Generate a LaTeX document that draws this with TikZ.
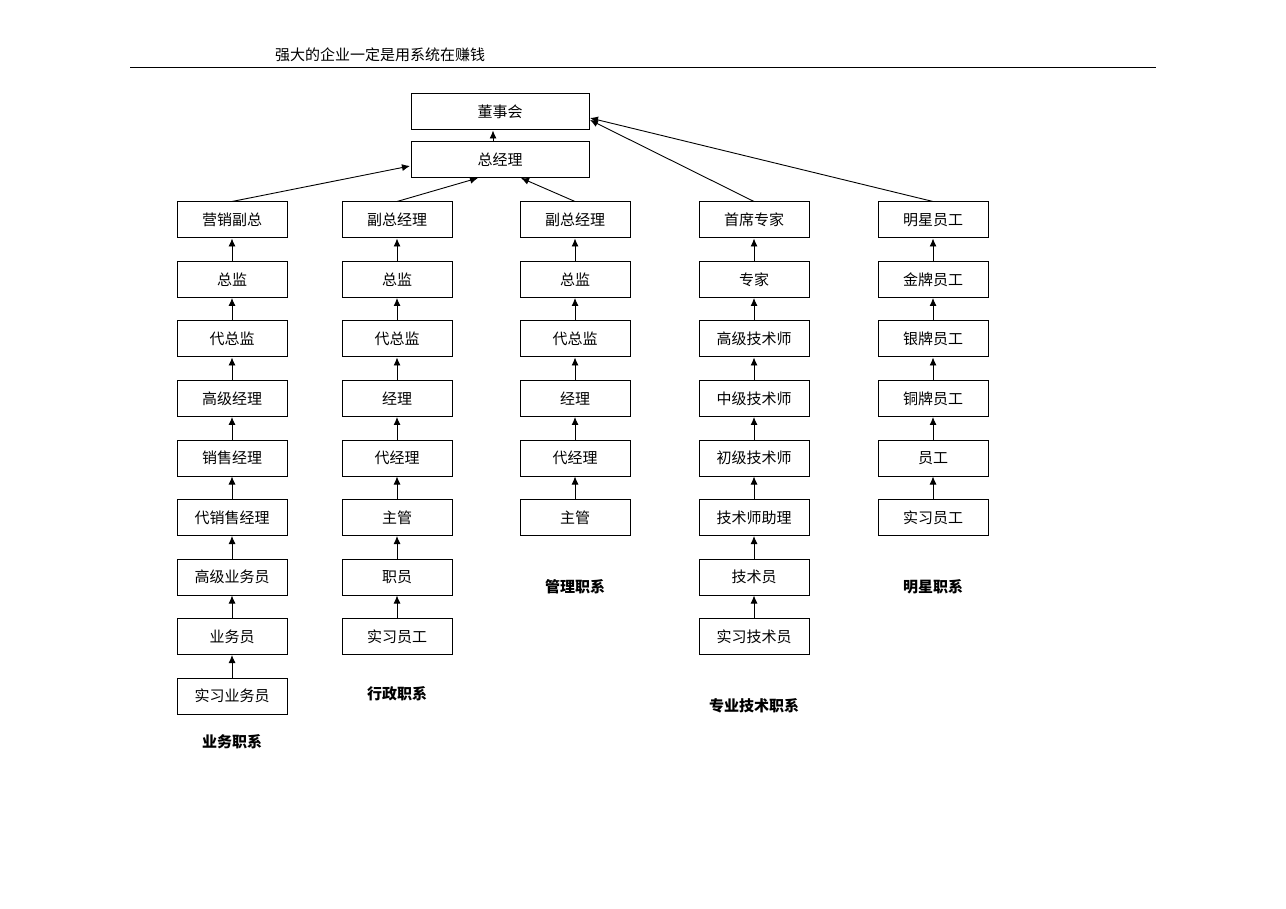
\documentclass[tikz,border=0pt]{standalone}
\usepackage{fontspec}
\newfontfamily\cjk{Noto Sans CJK SC}
\usetikzlibrary{arrows.meta}
\begin{document}
\begin{tikzpicture}[x=1pt,y=-1pt,
 box/.style={draw,line width=1pt,minimum width=110pt,minimum height=36pt,inner sep=0pt,font=\cjk\fontsize{15}{15}\selectfont},
 lab/.style={font=\cjk\bfseries\fontsize{15}{15}\selectfont},
 arr/.style={-{Latex[length=8pt,width=7pt]},line width=0.9pt}]
\useasboundingbox[fill=white] (0,0) rectangle (1286,909);
\node[font=\cjk\fontsize{15}{15}\selectfont] (hdr) at (380,55) {强大的企业一定是用系统在赚钱};
\coordinate (l1) at (130,68); \coordinate (l2) at (1156,68);
\draw[line width=1pt] (l1) -- (l2);
\node[box,minimum width=178pt] (dsh) at (500,112) {董事会};
\node[box,minimum width=178pt] (zjl) at (500,160) {总经理};
\draw[arr] (zjl.north -| 493,0) -- (dsh.south -| 493,0);
\foreach \c/\x/\lbl/\ly/\names in {
 a/232/业务职系/742/{营销副总,总监,代总监,高级经理,销售经理,代销售经理,高级业务员,业务员,实习业务员},
 b/397/行政职系/694/{副总经理,总监,代总监,经理,代经理,主管,职员,实习员工},
 c/575/管理职系/587/{副总经理,总监,代总监,经理,代经理,主管},
 d/754/专业技术职系/706/{首席专家,专家,高级技术师,中级技术师,初级技术师,技术师助理,技术员,实习技术员},
 e/933/明星职系/587/{明星员工,金牌员工,银牌员工,铜牌员工,员工,实习员工}}{
 \foreach \n [count=\i] in \names {
   \node[box] (\c\i) at (\x,{220+(\i-1)*59.5}) {\n};
   \ifnum\i>1 \pgfmathtruncatemacro\j{\i-1}\draw[arr] (\c\i) -- (\c\j);\fi
 }
 \node[lab] (\c lab) at (\x,\ly) {\lbl};
}
\draw[arr] (a1.north) -- (410,166);
\draw[arr] (b1.north) -- (478,178);
\draw[arr] (c1.north) -- (521,178);
\draw[arr] (d1.north) -- (590,120);
\draw[arr] (e1.north) -- (590,118);
\end{tikzpicture}
\end{document}
